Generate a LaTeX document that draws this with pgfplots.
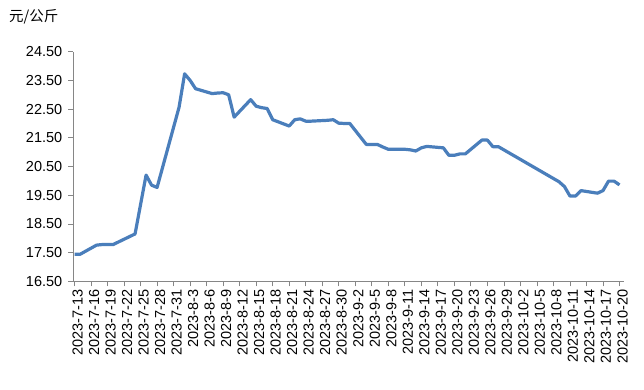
\documentclass[border=0pt]{standalone}
\usepackage{fontspec}
\setmainfont{Liberation Sans}
\newfontfamily\cjk{Noto Sans CJK SC}
\usepackage{pgfplots}
\pgfplotsset{compat=1.18}
\definecolor{linecol}{RGB}{74,126,187}
\definecolor{axgray}{RGB}{134,134,134}
\begin{document}
\begin{tikzpicture}
\useasboundingbox (0,0) rectangle (644bp,390bp);
\node[anchor=west,inner sep=0pt] at (9bp,373bp) {\cjk\fontsize{14.5bp}{17bp}\selectfont 元/公斤};
\begin{axis}[
  at={(73.3bp,108.7bp)}, anchor=south west,
  scale only axis, width=551bp, height=229.6bp,
  xmin=-0.22, xmax=99.87, ymin=16.5, ymax=24.5,
  axis x line=bottom, axis y line=left,
  axis line style={-, axgray, line width=0.8bp},
  tick style={axgray, line width=0.8bp},
  tick align=outside, major tick length=5bp,
  xtick={0,3,...,99},
  xticklabels={2023-7-13,2023-7-16,2023-7-19,2023-7-22,2023-7-25,2023-7-28,2023-7-31,2023-8-3,2023-8-6,2023-8-9,2023-8-12,2023-8-15,2023-8-18,2023-8-21,2023-8-24,2023-8-27,2023-8-30,2023-9-2,2023-9-5,2023-9-8,2023-9-11,2023-9-14,2023-9-17,2023-9-20,2023-9-23,2023-9-26,2023-9-29,2023-10-2,2023-10-5,2023-10-8,2023-10-11,2023-10-14,2023-10-17,2023-10-20},
  ytick={16.5,17.5,...,24.5},
  yticklabel style={/pgf/number format/fixed, /pgf/number format/fixed zerofill, /pgf/number format/precision=2, /pgf/number format/assume math mode=true, font=\fontsize{14.5bp}{17bp}\selectfont, xshift=-2.5bp},
  xticklabel style={rotate=90, anchor=east, font=\fontsize{14.5bp}{17bp}\selectfont, yshift=-3bp},
  clip=false,
]
\addplot[color=linecol, line width=3.2bp, line join=round] coordinates {
(0,17.44) (1,17.44) (4,17.76) (5,17.78) (6,17.78) (7,17.78) (11,18.15)
(13,20.20) (14,19.85) (15,19.77) (19,22.57) (20,23.73) (21,23.50) (22,23.21)
(25,23.04) (26,23.06) (27,23.07) (28,23.00) (29,22.22) (32,22.83) (33,22.60)
(34,22.55) (35,22.52) (36,22.13) (39,21.91) (40,22.13) (41,22.16) (42,22.08)
(43,22.08) (46,22.11) (47,22.13) (48,22.01) (49,22.00) (50,22.00) (53,21.27)
(54,21.27) (55,21.27) (56,21.18) (57,21.10) (60,21.10) (61,21.08) (62,21.04)
(63,21.15) (64,21.20) (67,21.15) (68,20.89) (69,20.89) (70,20.94) (71,20.94)
(74,21.42) (75,21.42) (76,21.19) (77,21.19) (88,19.97) (89,19.80) (90,19.47)
(91,19.47) (92,19.66) (95,19.57) (96,19.66) (97,19.99) (98,19.99) (99,19.86)
};
\end{axis}
\end{tikzpicture}
\end{document}
